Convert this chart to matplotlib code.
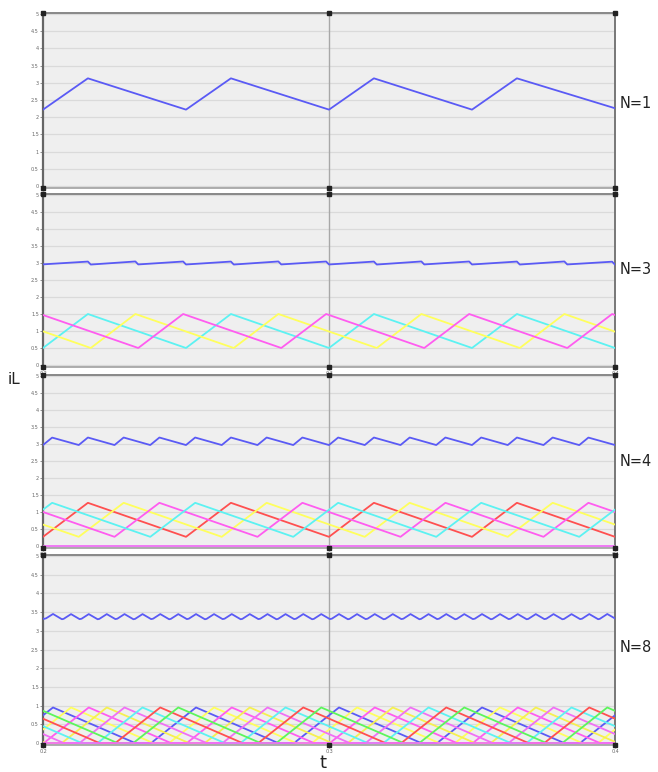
import numpy as np
import matplotlib
matplotlib.use("Agg")
import matplotlib.pyplot as plt

# ---------------- data ----------------
x_ticks = [0.2, 0.3, 0.4]
x_tick_labels = ["0.2", "0.3", "0.4"]
y_ticks = [0, 0.5, 1, 1.5, 2, 2.5, 3, 3.5, 4, 4.5, 5]
y_tick_labels = ["0", "0.5", "1", "1.5", "2", "2.5", "3", "3.5", "4", "4.5", "5"]
panel_labels = ["N=1", "N=3", "N=4", "N=8"]

# N=1 : single inductor current
n1_t = [0.200, 0.2157, 0.250, 0.2657, 0.300, 0.3157, 0.350, 0.3657, 0.400]
n1_i = [2.22, 3.13, 2.22, 3.13, 2.22, 3.13, 2.22, 3.13, 2.26]

# N=3 : phase currents
n3_cyan_t = [0.200, 0.2157, 0.250, 0.2657, 0.300, 0.3157, 0.350, 0.3657, 0.400]
n3_cyan_i = [0.50, 1.50, 0.50, 1.50, 0.50, 1.50, 0.50, 1.50, 0.50]
n3_yellow_t = [0.200, 0.2167, 0.2323, 0.2667, 0.2823, 0.3167, 0.3323, 0.3667, 0.3823, 0.400]
n3_yellow_i = [0.99, 0.50, 1.50, 0.50, 1.50, 0.50, 1.50, 0.50, 1.50, 0.98]
n3_magenta_t = [0.200, 0.2333, 0.2490, 0.2833, 0.2990, 0.3333, 0.3490, 0.3833, 0.3990, 0.400]
n3_magenta_i = [1.47, 0.50, 1.50, 0.50, 1.50, 0.50, 1.50, 0.50, 1.50, 1.47]

# N=4 : phase currents
n4_red_t = [0.200, 0.2157, 0.250, 0.2657, 0.300, 0.3157, 0.350, 0.3657, 0.400]
n4_red_i = [0.27, 1.27, 0.27, 1.27, 0.27, 1.27, 0.27, 1.27, 0.27]
n4_yellow_t = [0.200, 0.2125, 0.2282, 0.2625, 0.2782, 0.3125, 0.3282, 0.3625, 0.3782, 0.400]
n4_yellow_i = [0.63, 0.27, 1.27, 0.27, 1.27, 0.27, 1.27, 0.27, 1.27, 0.63]
n4_magenta_t = [0.200, 0.2250, 0.2407, 0.2750, 0.2907, 0.3250, 0.3407, 0.3750, 0.3907, 0.400]
n4_magenta_i = [1.00, 0.27, 1.27, 0.27, 1.27, 0.27, 1.27, 0.27, 1.27, 1.00]
n4_cyan_t = [0.200, 0.2032, 0.2375, 0.2532, 0.2875, 0.3032, 0.3375, 0.3532, 0.3875, 0.400]
n4_cyan_i = [1.07, 1.27, 0.27, 1.27, 0.27, 1.27, 0.27, 1.27, 0.27, 1.07]
n4_zero_t = [0.200, 0.400]
n4_zero_i = [0.0, 0.0]

# N=8 : phase currents (discontinuous)
n8_blue_t = [0.200, 0.2035, 0.2322, 0.2378, 0.2535, 0.2822, 0.2878, 0.3035, 0.3322, 0.3378, 0.3535, 0.3822, 0.3878, 0.400]
n8_blue_i = [0.74, 0.95, 0.0, 0.0, 0.95, 0.0, 0.0, 0.95, 0.0, 0.0, 0.95, 0.0, 0.0, 0.74]
n8_yellow_t = [0.200, 0.2098, 0.2385, 0.2441, 0.2598, 0.2885, 0.2941, 0.3098, 0.3385, 0.3441, 0.3598, 0.3885, 0.3941, 0.400]
n8_yellow_i = [0.36, 0.95, 0.0, 0.0, 0.95, 0.0, 0.0, 0.95, 0.0, 0.0, 0.95, 0.0, 0.0, 0.36]
n8_magenta_t = [0.200, 0.2003, 0.2160, 0.2447, 0.2503, 0.2660, 0.2947, 0.3003, 0.3160, 0.3447, 0.3503, 0.3660, 0.3947, 0.400]
n8_magenta_i = [0.0, 0.0, 0.95, 0.0, 0.0, 0.95, 0.0, 0.0, 0.95, 0.0, 0.0, 0.95, 0.0, 0.0]
n8_gold_t = [0.200, 0.2010, 0.2066, 0.2223, 0.2510, 0.2566, 0.2723, 0.3010, 0.3066, 0.3223, 0.3510, 0.3566, 0.3723, 0.400]
n8_gold_i = [0.03, 0.0, 0.0, 0.95, 0.0, 0.0, 0.95, 0.0, 0.0, 0.95, 0.0, 0.0, 0.95, 0.03]
n8_pink_t = [0.200, 0.2072, 0.2128, 0.2285, 0.2572, 0.2628, 0.2785, 0.3072, 0.3128, 0.3285, 0.3572, 0.3628, 0.3785, 0.400]
n8_pink_i = [0.24, 0.0, 0.0, 0.95, 0.0, 0.0, 0.95, 0.0, 0.0, 0.95, 0.0, 0.0, 0.95, 0.24]
n8_cyan_t = [0.200, 0.2135, 0.2191, 0.2348, 0.2635, 0.2691, 0.2848, 0.3135, 0.3191, 0.3348, 0.3635, 0.3691, 0.3848, 0.400]
n8_cyan_i = [0.45, 0.0, 0.0, 0.95, 0.0, 0.0, 0.95, 0.0, 0.0, 0.95, 0.0, 0.0, 0.95, 0.45]
n8_red_t = [0.200, 0.2197, 0.2253, 0.2410, 0.2697, 0.2753, 0.2910, 0.3197, 0.3253, 0.3410, 0.3697, 0.3753, 0.3910, 0.400]
n8_red_i = [0.65, 0.0, 0.0, 0.95, 0.0, 0.0, 0.95, 0.0, 0.0, 0.95, 0.0, 0.0, 0.95, 0.65]
n8_green_t = [0.200, 0.2260, 0.2316, 0.2473, 0.2760, 0.2816, 0.2973, 0.3260, 0.3316, 0.3473, 0.3760, 0.3816, 0.3973, 0.400]
n8_green_i = [0.86, 0.0, 0.0, 0.95, 0.0, 0.0, 0.95, 0.0, 0.0, 0.95, 0.0, 0.0, 0.95, 0.86]
n8_zero_t = [0.200, 0.400]
n8_zero_i = [0.0, 0.0]

# ---------------- styling ----------------
C_BLUE = "#5a5af5"
C_YEL = "#ffff5c"
C_GOLD = "#f5f050"
C_CYAN = "#5cf2f2"
C_MAG = "#ff5cf0"
C_PINK = "#f070f5"
C_RED = "#ff5050"
C_GREEN = "#5cf55c"

W, H = 658, 772
fig = plt.figure(figsize=(W / 100, H / 100), dpi=100)
fig.patch.set_facecolor("white")

YMIN, YMAX = -0.05, 5.03
# (pixel y of value 5, pixel y of value 0) per panel
panel_px = [(14, 186), (195, 365), (376, 546), (556, 743)]
X0, X1 = 43, 615

def make_ax(y5, y0):
    ppu = (y0 - y5) / 5.0
    top = y5 - (YMAX - 5) * ppu
    bot = y0 - YMIN * ppu
    ax = fig.add_axes([X0 / W, 1 - bot / H, (X1 - X0) / W, (bot - top) / H])
    ax.set_facecolor("#efefef")
    ax.set_xlim(0.2, 0.4)
    ax.set_ylim(YMIN, YMAX)
    ax.set_yticks(y_ticks)
    ax.set_yticklabels(y_tick_labels)
    ax.set_xticks(x_ticks)
    ax.set_xticklabels(x_tick_labels)
    ax.tick_params(axis="both", labelsize=3.5, colors="#666666", length=2, width=0.5, pad=1)
    ax.grid(axis="y", color="#dadada", lw=0.9)
    ax.set_axisbelow(True)
    ax.axvline(0.3, color="#a8a8a8", lw=1.0, zorder=1)
    for s in ["left"]:
        ax.spines[s].set_color("#666666"); ax.spines[s].set_linewidth(1.6)
    ax.spines["top"].set_color("#888888"); ax.spines["top"].set_linewidth(1.4)
    ax.spines["right"].set_color("#777777"); ax.spines["right"].set_linewidth(1.4)
    ax.spines["bottom"].set_color("#a0a0a0"); ax.spines["bottom"].set_linewidth(1.2)
    # simulator cursor markers (decorative)
    for xa in (0.0, 0.5, 1.0):
        ax.plot([xa], [1.0], marker="s", ms=2.8, color="#222222", transform=ax.transAxes, clip_on=False, zorder=6)
        ax.plot([xa], [0.0], marker="s", ms=2.8, color="#222222", transform=ax.transAxes, clip_on=False, zorder=6)
    return ax

axes = [make_ax(*p) for p in panel_px]

LW = 1.3

def total_of(series):
    grid = np.linspace(0.2, 0.4, 2001)
    tot = np.zeros_like(grid)
    for t, i in series:
        tot += np.interp(grid, t, i)
    return grid, tot

# N=1
ax = axes[0]
ax.plot(n1_t, n1_i, color=C_BLUE, lw=LW, zorder=3)

# N=3
ax = axes[1]
s3 = [(n3_cyan_t, n3_cyan_i), (n3_yellow_t, n3_yellow_i), (n3_magenta_t, n3_magenta_i)]
for (t, i), c in zip(s3, [C_CYAN, C_YEL, C_MAG]):
    ax.plot(t, i, color=c, lw=LW, zorder=3)
g, tot = total_of(s3)
ax.plot(g, tot, color=C_BLUE, lw=LW, zorder=4)

# N=4
ax = axes[2]
s4 = [(n4_red_t, n4_red_i), (n4_yellow_t, n4_yellow_i), (n4_magenta_t, n4_magenta_i), (n4_cyan_t, n4_cyan_i)]
for (t, i), c in zip(s4, [C_RED, C_YEL, C_MAG, C_CYAN]):
    ax.plot(t, i, color=c, lw=LW, zorder=3)
ax.plot(n4_zero_t, n4_zero_i, color=C_PINK, lw=LW, zorder=3)
g, tot = total_of(s4)
ax.plot(g, tot, color=C_BLUE, lw=LW, zorder=4)

# N=8
ax = axes[3]
s8 = [(n8_blue_t, n8_blue_i), (n8_yellow_t, n8_yellow_i), (n8_magenta_t, n8_magenta_i),
      (n8_gold_t, n8_gold_i), (n8_pink_t, n8_pink_i), (n8_cyan_t, n8_cyan_i),
      (n8_red_t, n8_red_i), (n8_green_t, n8_green_i)]
cols8 = [C_BLUE, C_YEL, C_MAG, C_GOLD, C_PINK, C_CYAN, C_RED, C_GREEN]
for (t, i), c in zip(s8, cols8):
    ax.plot(t, i, color=c, lw=LW, zorder=3)
ax.plot(n8_zero_t, n8_zero_i, color=C_PINK, lw=LW, zorder=3)
g, tot = total_of(s8)
ax.plot(g, tot, color=C_BLUE, lw=LW, zorder=4)

# panel labels at right
label_y = [103, 270, 462, 648]
for lab, yp in zip(panel_labels, label_y):
    fig.text(636 / W, 1 - yp / H, lab, ha="center", va="center", fontsize=10.5, color="#222222")

fig.text(14 / W, 1 - 379 / H, "iL", ha="center", va="center", fontsize=11, color="#222222")
fig.text(323 / W, 1 - 763 / H, "t", ha="center", va="center", fontsize=13, color="#222222")

fig.savefig("out.png", dpi=100)
